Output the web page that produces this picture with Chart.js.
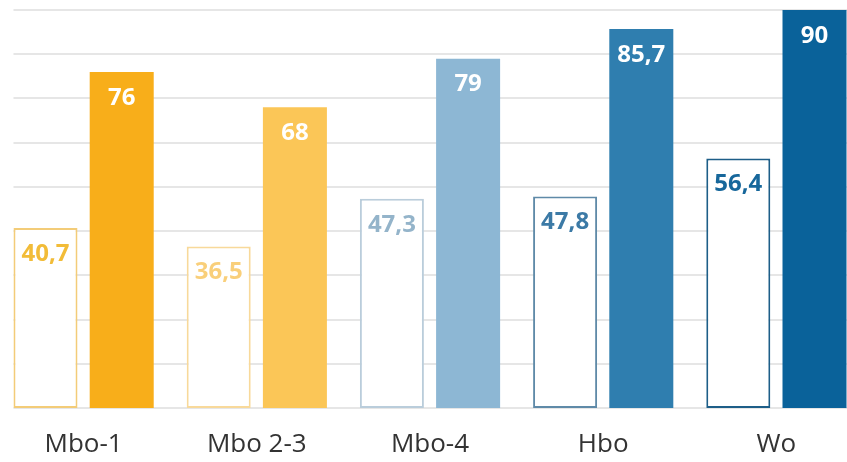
<!DOCTYPE html>
<html><head><meta charset="utf-8">
<script src="https://cdn.jsdelivr.net/npm/chart.js@4.4.1/dist/chart.umd.min.js"></script>
<style>
html,body{margin:0;padding:0;background:#fff;overflow:hidden;width:847px;height:462px;}
#wrap{position:absolute;left:-3px;top:0;width:866px;height:462px;}
</style></head><body>
<div id="wrap"><canvas id="c" width="866" height="462"></canvas></div>
<script>
const categories = ['Mbo-1', 'Mbo 2-3', 'Mbo-4', 'Hbo', 'Wo'];
const seriesOutline = [40.7, 36.5, 47.3, 47.8, 56.4];
const seriesFilled = [76, 68, 79, 85.7, 90];
const yMax = 90;
const yStep = 10;
const fillColors = ['#F8AE1A', '#FBC657', '#8DB7D4', '#2F7EAF', '#0A629A'];
const outlineColors = ['#F3CC78', '#F8D99A', '#BACDDB', '#5F8AA8', '#1D5E88'];
const outlineLabelColors = ['#F2BC38', '#F9CF7A', '#94B4CA', '#3C7AA6', '#17679B'];

const fmt = v => String(v).replace('.', ',');

const gridPlugin = {
  id: 'customGrid',
  beforeDatasetsDraw(chart) {
    const ctx = chart.ctx, y = chart.scales.y, area = chart.chartArea;
    const first = chart.getDatasetMeta(0).data[0];
    const x0 = first.x - first.width / 2;
    ctx.save();
    ctx.strokeStyle = '#E6E6E6';
    ctx.lineWidth = 2;
    for (let v = 0; v <= yMax; v += yStep) {
      const py = Math.round(y.getPixelForValue(v));
      ctx.beginPath();
      ctx.moveTo(x0, py);
      ctx.lineTo(area.right, py);
      ctx.stroke();
    }
    ctx.restore();
  }
};

const labelPlugin = {
  id: 'valueLabels',
  afterDatasetsDraw(chart) {
    const ctx = chart.ctx;
    ctx.save();
    ctx.font = 'bold 24px "Open Sans", sans-serif';
    ctx.textAlign = 'center';
    ctx.textBaseline = 'middle';
    chart.data.datasets.forEach((ds, di) => {
      chart.getDatasetMeta(di).data.forEach((el, i) => {
        ctx.fillStyle = di === 0 ? outlineLabelColors[i] : '#FFFFFF';
        ctx.fillText(fmt(ds.data[i]), el.x, el.y + 26);
      });
    });
    ctx.restore();
  }
};

new Chart(document.getElementById('c'), {
  type: 'bar',
  data: {
    labels: categories,
    datasets: [
      {
        data: seriesOutline,
        backgroundColor: '#FFFFFF',
        borderColor: outlineColors,
        borderWidth: 2,
        borderSkipped: false
      },
      {
        data: seriesFilled,
        backgroundColor: fillColors,
        borderWidth: 0
      }
    ]
  },
  options: {
    responsive: false,
    animation: false,
    devicePixelRatio: 1,
    categoryPercentage: 0.88,
    barPercentage: 0.84,
    layout: { padding: { top: 10, bottom: 4, left: 0, right: 0 } },
    plugins: { legend: { display: false }, tooltip: { enabled: false } },
    scales: {
      y: { display: false, min: 0, max: yMax, ticks: { stepSize: yStep } },
      x: {
        grid: { display: false, drawTicks: false },
        border: { display: false },
        afterFit(s) { s.height = 50; },
        ticks: { color: '#333333', padding: 21, font: { family: '"Open Sans", sans-serif', size: 26 } }
      }
    }
  },
  plugins: [gridPlugin, labelPlugin]
});
</script>
</body></html>
